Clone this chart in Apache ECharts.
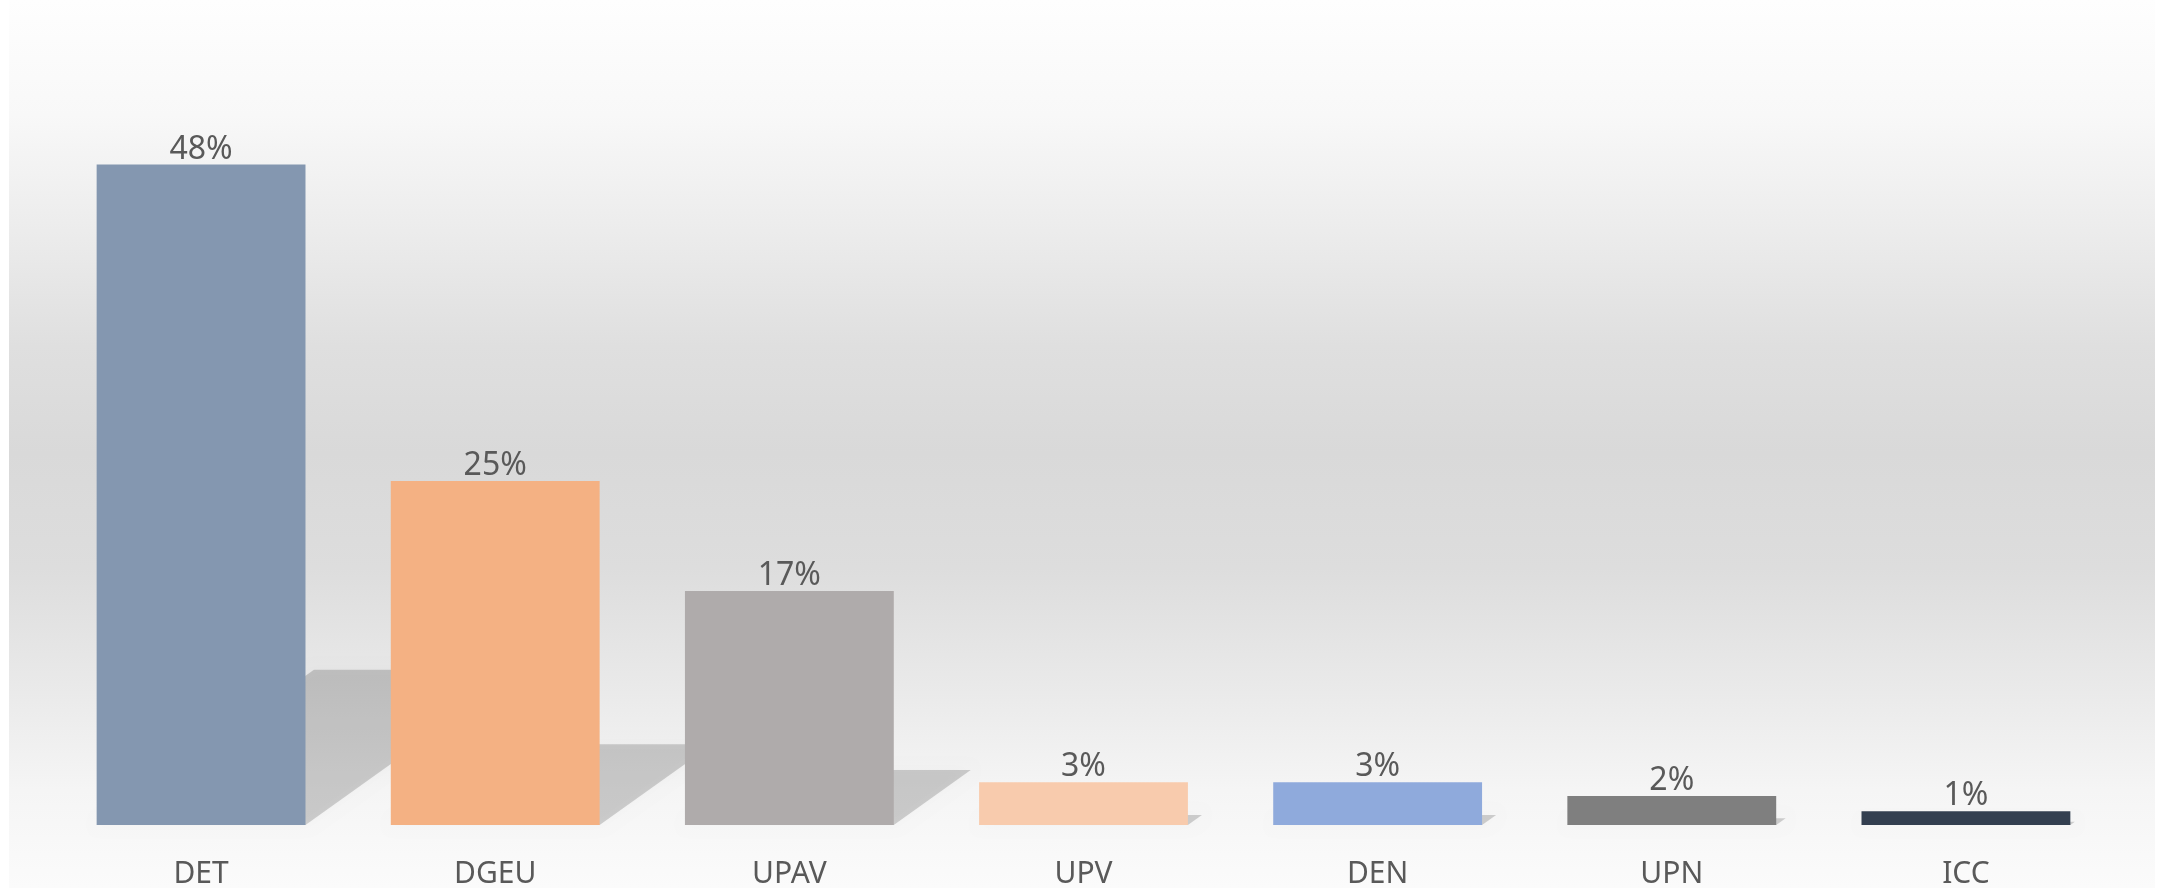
<!DOCTYPE html>
<html>
<head>
<meta charset="utf-8">
<title>Chart</title>
<script src="https://cdn.jsdelivr.net/npm/echarts@6/dist/echarts.min.js"></script>
<style>
html, body { margin: 0; padding: 0; background: #fff; }
#main { width: 2164px; height: 891px; }
</style>
</head>
<body>
<div id="main"></div>
<script>
const categories = ['DET', 'DGEU', 'UPAV', 'UPV', 'DEN', 'UPN', 'ICC']
const shares = [0.48, 0.25, 0.17, 0.031, 0.031, 0.021, 0.01]
const colors = ['#8497b0', '#f4b183', '#afabab', '#f8cbad', '#8faadc', '#7f7f7f', '#333f50']

const fontFamily = '"Noto Sans", "Open Sans", sans-serif'
const chart = echarts.init(document.getElementById('main'))

// perspective shadow falling back and to the right of each bar
function renderShadow(params, api) {
    const idx = api.value(0)
    const base = api.coord([idx, 0])
    const top = api.coord([idx, api.value(1)])
    const half = api.size([1, 0])[0] * 0.71 / 2
    const h = (base[1] - top[1]) * 0.235
    const s = h * 1.4
    return {
        type: 'polygon',
        shape: {
            points: [
                [base[0] - half, base[1]],
                [base[0] + half, base[1]],
                [base[0] + half + s, base[1] - h],
                [base[0] - half + s, base[1] - h]
            ]
        },
        style: {
            fill: 'rgba(0,0,0,0.17)',
            shadowBlur: 12,
            shadowColor: 'rgba(0,0,0,0.12)'
        }
    }
}

const option = {
    animation: false,
    graphic: [{
        type: 'rect',
        silent: true,
        z: -100,
        shape: { x: 9, y: 0, width: 2146, height: 888 },
        style: {
            fill: new echarts.graphic.LinearGradient(0, 0, 0, 1, [
                { offset: 0, color: '#fefefe' },
                { offset: 0.13, color: '#f8f8f8' },
                { offset: 0.26, color: '#ececec' },
                { offset: 0.39, color: '#dfdfdf' },
                { offset: 0.51, color: '#d9d9d9' },
                { offset: 0.64, color: '#dddddd' },
                { offset: 0.77, color: '#e9e9e9' },
                { offset: 0.89, color: '#f5f5f5' },
                { offset: 1, color: '#fbfbfb' }
            ])
        }
    }],
    grid: { left: 54, right: 51, top: 137, bottom: 66 },
    xAxis: {
        type: 'category',
        data: categories,
        axisLine: { show: false },
        axisTick: { show: false },
        axisLabel: {
            color: '#595959',
            fontSize: 30,
            fontFamily,
            margin: 34
        }
    },
    yAxis: {
        type: 'value',
        min: 0,
        max: 0.5,
        show: false,
        splitLine: { show: false }
    },
    series: [
        {
            type: 'custom',
            z: 1,
            silent: true,
            renderItem: renderShadow,
            encode: { x: 0, y: 1 },
            data: shares.map((v, i) => [i, v])
        },
        {
            type: 'bar',
            z: 2,
            barWidth: '71%',
            data: shares.map((v, i) => ({ value: v, itemStyle: { color: colors[i] } })),
            label: {
                show: true,
                position: 'top',
                distance: -1,
                color: '#595959',
                fontSize: 32,
                fontFamily,
                formatter: p => Math.round(p.value * 100) + '%'
            }
        }
    ]
}

chart.setOption(option)
</script>
</body>
</html>
